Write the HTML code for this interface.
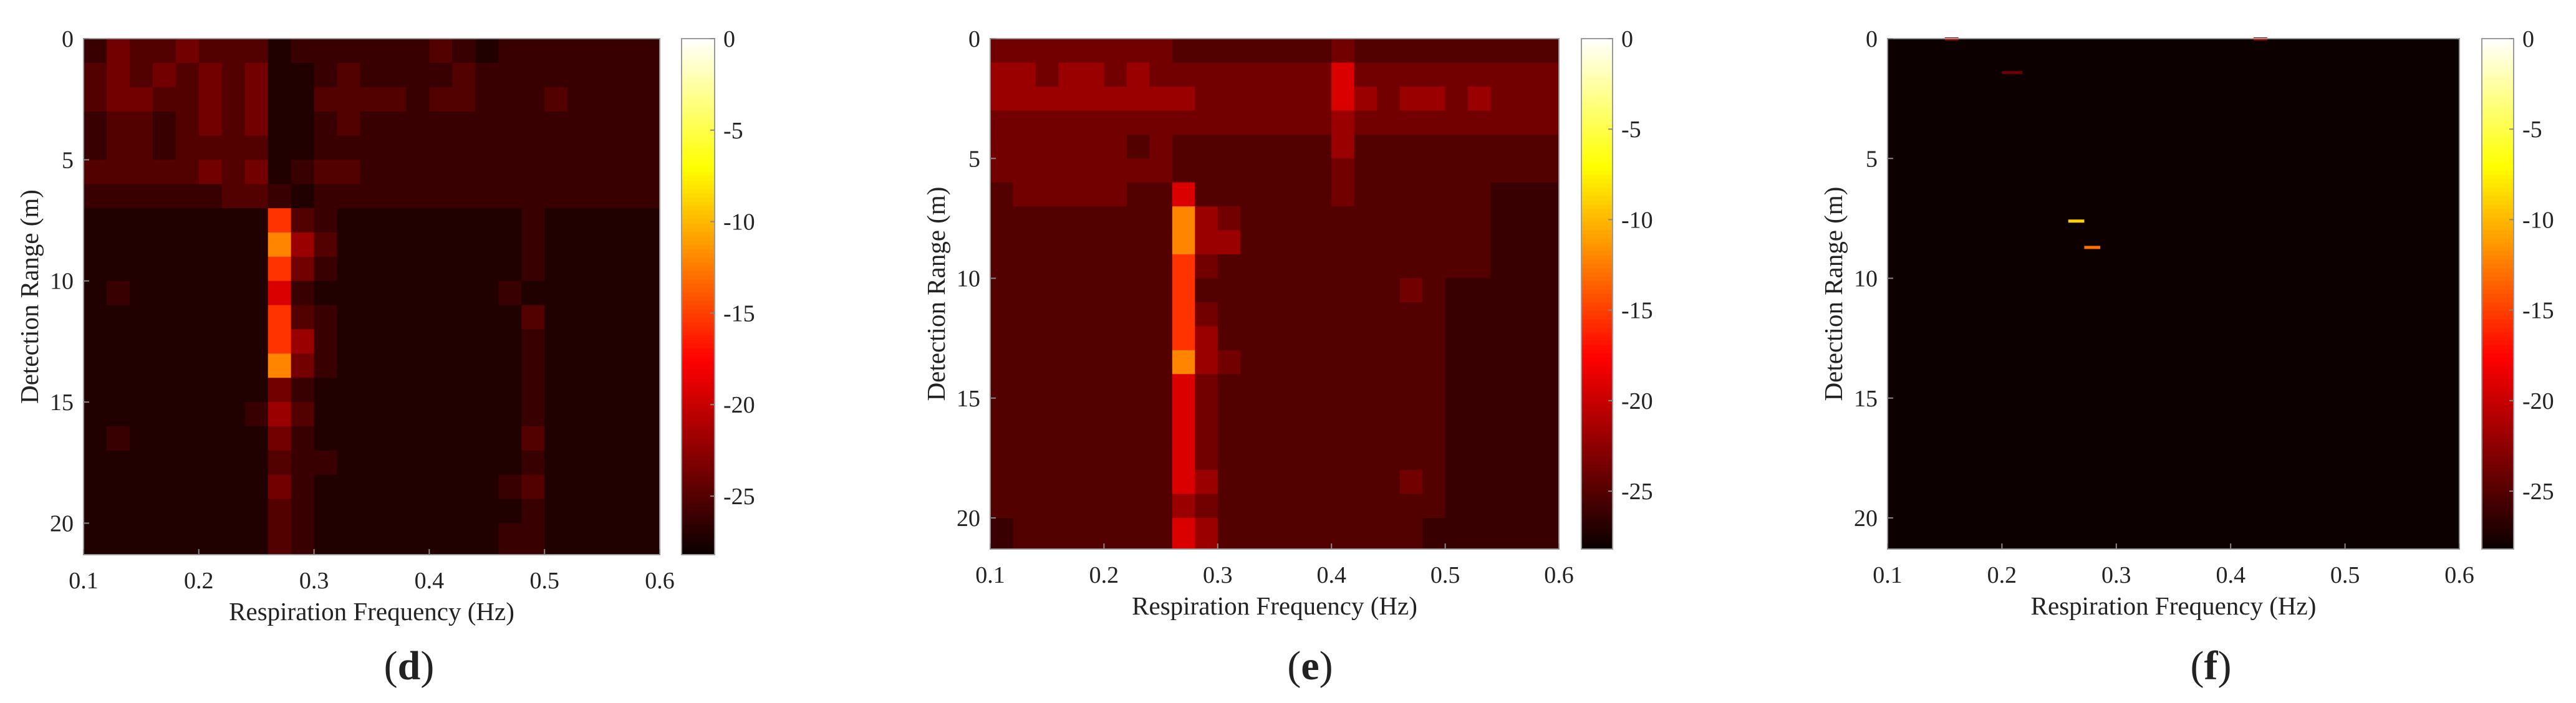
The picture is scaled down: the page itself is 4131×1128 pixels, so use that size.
<!DOCTYPE html>
<html><head><meta charset="utf-8"><style>
html,body{margin:0;padding:0;background:#fff;}
svg{display:block;}
text{font-family:"Liberation Serif",serif;fill:#222;}
</style></head><body>
<svg id="fig" width="4131" height="1128" viewBox="0 0 4131 1128" xmlns="http://www.w3.org/2000/svg"></svg>
<script>
// ---- data ----
const freqTicks = [0.1, 0.2, 0.3, 0.4, 0.5, 0.6];
const rangeTicks = [0, 5, 10, 15, 20];
const cbTicks = [0, -5, -10, -15, -20, -25];
const freqBins = [0.10,0.12,0.14,0.16,0.18,0.20,0.22,0.24,0.26,0.28,0.30,0.32,0.34,0.36,0.38,0.40,0.42,0.44,0.46,0.48,0.50,0.52,0.54,0.56,0.58];
const rangeBins = [0,1,2,3,4,5,6,7,8,9,10,11,12,13,14,15,16,17,18,19,20];
const levelT = [0, .035, .07, .11, .16, .22, .32, .45, .57, .68];
const panelD = [
"2433433312222223212222222",
"3434343411232222322222222",
"3443343411333323322232222",
"2332343411232222222222222",
"2332333311222222222222222",
"3333343412332222222222222",
"2222223321222222222222222",
"1111111173211111111211111",
"1111111185311111111211111",
"1111111174211111111211111",
"1211111162111111112111111",
"1111111173211111111311111",
"1111111175211111111211111",
"1111111184211111111211111",
"1111111142111111111211111",
"1111111253111111111211111",
"1211111142111111111311111",
"1111111132211111111211111",
"1111111142111111112311111",
"1111111132111111111211111",
"1111111132111111112211111"];
const panelE = [
"4444444433333334333333333",
"5545545444444446444444444",
"5555555554444446545545444",
"4444444444444445444444444",
"4444443433333335333333333",
"4444444433333334333333333",
"3444443363333334333333222",
"3333333385433333333333222",
"3333333385533333333333222",
"3333333374333333333333222",
"3333333373333333334322222",
"3333333374333333333322222",
"3333333375333333333322222",
"3333333385433333333322222",
"3333333364333333333322222",
"3333333364333333333322222",
"3333333364333333333322222",
"3333333364333333333322222",
"3333333365333333334322222",
"3333333354333333333322222",
"2333333365333333333222222"];
// sparse marks for panel (f): frequency start, frequency end, range, dB value
const fFreqStart = [0.258, 0.272, 0.200, 0.150, 0.420];
const fFreqEnd   = [0.272, 0.286, 0.218, 0.162, 0.432];
const fRange     = [7.6, 8.7, 1.4, 0.0, 0.0];
const fValue     = [-9, -13, -24, -22, -22];

const NS = "http://www.w3.org/2000/svg";
const svg = document.getElementById('fig');
function el(tag, attrs, parent){const e=document.createElementNS(NS,tag);for(const k in attrs)e.setAttribute(k,attrs[k]);(parent||svg).appendChild(e);return e;}
function hot(t){t=Math.max(0,Math.min(1,t));const r=Math.min(1,t/0.375),g=Math.max(0,Math.min(1,(t-0.375)/0.375)),b=Math.max(0,Math.min(1,(t-0.75)/0.25));
 const f=v=>Math.round(10+v*245);return `rgb(${f(r)},${Math.round(g*255)},${Math.round(b*255)})`;}
const DBMIN=-28.2;
const panels = [
 {id:'d', L:134, R:1058, T:62, B:890, cbL:1093, cbR:1146, lab:'d', grid:panelD},
 {id:'e', L:1588, R:2500, T:62, B:881, cbL:2536, cbR:2586, lab:'e', grid:panelE},
 {id:'f', L:3027, R:3944, T:62, B:881, cbL:3980, cbR:4031, lab:'f', grid:null}
];
const YMAX=21.3;
panels.forEach(p=>{
 const g=el('g',{});
 
 
 const xs=f=>p.L+(f-0.1)/0.5*(p.R-p.L);
 const ys=r=>p.T+r/YMAX*(p.B-p.T);
 const bg=el('rect',{x:p.L,y:p.T,width:p.R-p.L,height:p.B-p.T,fill:hot(0.005)},g);
 
 
 const hm=el('g',{},g);
 
 
 if(p.grid){
  rangeBins.forEach((r,ri)=>{
   const r2 = ri===rangeBins.length-1?YMAX:rangeBins[ri+1];
   freqBins.forEach((f,ci)=>{
    const f2 = ci===freqBins.length-1?0.6:freqBins[ci+1];
    const lv=+p.grid[ri][ci];
    const c=el('rect',{x:xs(f),y:ys(r),width:xs(f2)-xs(f)+0.5,height:ys(r2)-ys(r)+0.5,fill:hot(levelT[lv])},hm);
    
    
   });
  });
 } else {
  fRange.forEach((r,i)=>{
   const c=el('rect',{x:xs(fFreqStart[i]),y:ys(r)-2,width:xs(fFreqEnd[i])-xs(fFreqStart[i]),height:5,fill:hot((fValue[i]-DBMIN)/(-DBMIN))},hm);
   
   
  });
 }
 const box=el('rect',{x:p.L,y:p.T,width:p.R-p.L,height:p.B-p.T,fill:'none',stroke:'#9a9a9a','stroke-width':2},g);
 
 
 freqTicks.forEach(f=>{
  el('line',{x1:xs(f),x2:xs(f),y1:p.B,y2:p.B-9,stroke:'#888','stroke-width':2},g);
  const t=el('text',{x:xs(f),y:p.B+54,'font-size':38,'text-anchor':'middle'},g);
  t.textContent=f.toFixed(1);
  
  
 });
 rangeTicks.forEach(r=>{
  el('line',{x1:p.L,x2:p.L+9,y1:ys(r),y2:ys(r),stroke:'#888','stroke-width':2},g);
  const t=el('text',{x:p.L-16,y:ys(r)+13,'font-size':38,'text-anchor':'end'},g);
  t.textContent=r;
  
  
 });
 const xt=el('text',{x:(p.L+p.R)/2,y:p.B+105,'font-size':41,'text-anchor':'middle'},g);
 xt.textContent='Respiration Frequency (Hz)';
 
 
 const yx=p.L-87, yy=(p.T+p.B)/2;
 const yt=el('text',{x:yx,y:yy,'font-size':41,'text-anchor':'middle',transform:`rotate(-90 ${yx} ${yy}) translate(0 14)`},g);
 yt.textContent='Detection Range (m)';
 
 
 // colorbar
 const cb=el('g',{},g);
 
 
 const N=120, h=(p.B-p.T)/N;
 for(let i=0;i<N;i++){
  el('rect',{x:p.cbL,y:p.T+i*h,width:p.cbR-p.cbL,height:h+0.6,fill:hot(1-(i+0.5)/N)},cb);
 }
 el('rect',{x:p.cbL,y:p.T,width:p.cbR-p.cbL,height:p.B-p.T,fill:'none',stroke:'#9a9a9a','stroke-width':2},cb);
 cbTicks.forEach(v=>{
  const y=p.T+(v/DBMIN)*(p.B-p.T);
  el('line',{x1:p.cbR,x2:p.cbR-7,y1:y,y2:y,stroke:'#888','stroke-width':2},cb);
  const t=el('text',{x:p.cbR+14,y:y+13,'font-size':38},cb);
  t.textContent=v;
  
  
 });
 const lb=el('text',{x:(p.L+p.R)/2+ (p.id==='d'?60:p.id==='e'?57:60),y:1090,'font-size':66,'text-anchor':'middle'},g);
 lb.innerHTML='(<tspan font-weight="bold">'+p.lab+'</tspan>)';
 
 
});
</script>
</body></html>
